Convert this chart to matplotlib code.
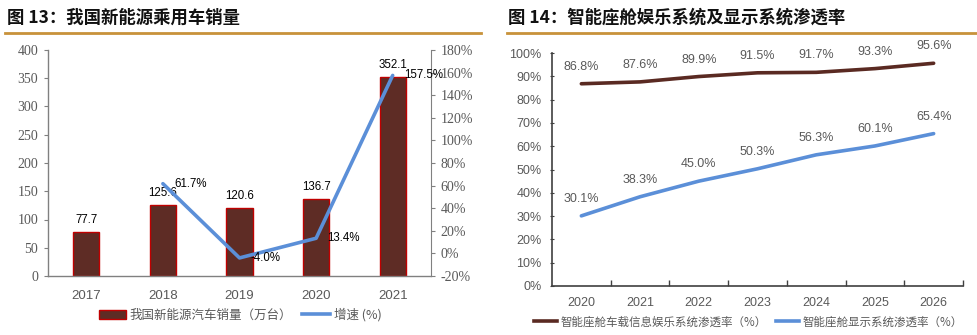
import matplotlib
matplotlib.use("Agg")
import matplotlib.pyplot as plt
from matplotlib.lines import Line2D
import numpy as np

plt.rcParams['font.family'] = ['Noto Sans CJK SC', 'DejaVu Sans']

# ---------------- data ----------------
years_l = ["2017", "2018", "2019", "2020", "2021"]
sales = [77.7, 125.6, 120.6, 136.7, 352.1]
growth_years_idx = [1, 2, 3, 4]
growth = [61.7, -4.0, 13.4, 157.5]
left_yticks = [0, 50, 100, 150, 200, 250, 300, 350, 400]
right_yticks = [-20, 0, 20, 40, 60, 80, 100, 120, 140, 160, 180]

years_r = ["2020", "2021", "2022", "2023", "2024", "2025", "2026"]
infot = [86.8, 87.6, 89.9, 91.5, 91.7, 93.3, 95.6]
display = [30.1, 38.3, 45.0, 50.3, 56.3, 60.1, 65.4]
r_yticks = [0, 10, 20, 30, 40, 50, 60, 70, 80, 90, 100]

title_l = "图 13：我国新能源乘用车销量"
title_r = "图 14：智能座舱娱乐系统及显示系统渗透率"
leg_bar = "我国新能源汽车销量（万台）"
leg_growth = "增速 (%)"
leg_r1 = "智能座舱车载信息娱乐系统渗透率（%）"
leg_r2 = "智能座舱显示系统渗透率（%）"

W, H = 977, 335
fig = plt.figure(figsize=(W / 100, H / 100), dpi=100)

def fx(px):
    return px / W

def fy(py):
    return 1 - py / H

BAR_C = "#5E2C25"
BAR_E = "#C00000"
BLUE = "#5B8FD8"
BROWN = "#5A2A22"
ORANGE = "#C8923A"
GRAY = "#808080"
TICKC = "#595959"

# titles and rules
fig.text(fx(7), fy(18), title_l, fontsize=12.5, fontweight="bold", va="center", ha="left", color="#111111")
fig.text(fx(508), fy(18), title_r, fontsize=12.5, fontweight="bold", va="center", ha="left", color="#111111")
fig.add_artist(Line2D([fx(5), fx(481)], [fy(33), fy(33)], color=ORANGE, lw=2))
fig.add_artist(Line2D([fx(507), fx(977)], [fy(33), fy(33)], color=ORANGE, lw=2))

# ---------------- left chart ----------------
axl = fig.add_axes([fx(48), fy(276), fx(431 - 48), fy(50) - fy(276)])
x = np.arange(len(years_l))
axl.bar(x, sales, width=0.34, color=BAR_C, edgecolor=BAR_E, linewidth=1, zorder=2)
axl.set_xlim(-0.5, len(years_l) - 0.5)
axl.set_ylim(0, 400)
axl.set_yticks(left_yticks)
axl.set_yticklabels([str(v) for v in left_yticks], family=["Liberation Serif"], fontsize=10, color=TICKC)
axl.set_xticks(x)
axl.set_xticklabels(years_l, family=["Liberation Sans"], fontsize=9.5, color=TICKC)
axl.tick_params(axis="x", length=0, pad=10)
axl.tick_params(axis="y", length=3, color=GRAY, pad=4)
for s in ["top", "right"]:
    axl.spines[s].set_visible(False)
for s in ["left", "bottom"]:
    axl.spines[s].set_color(GRAY)
    axl.spines[s].set_linewidth(1)
for xi, v in zip(x, sales):
    axl.annotate(f"{v:.1f}", (xi, v), xytext=(0, 12), textcoords="offset pixels",
                 ha="center", va="center", fontsize=8.3, family=["Liberation Sans"], color="#000000")

axr = axl.twinx()
axr.plot([x[i] for i in growth_years_idx], growth, color=BLUE, lw=2.6, zorder=3, solid_capstyle="round")
axr.set_ylim(-20, 180)
axr.set_yticks(right_yticks)
axr.set_yticklabels([f"{v}%" for v in right_yticks], family=["Liberation Serif"], fontsize=10, color=TICKC)
axr.tick_params(axis="y", length=3, color=GRAY, pad=4)
for s in ["top", "left", "bottom"]:
    axr.spines[s].set_visible(False)
axr.spines["right"].set_color(GRAY)
for i, v in zip(growth_years_idx, growth):
    axr.annotate(f"{v:.1f}%", (x[i], v), xytext=(11, 0), textcoords="offset pixels",
                 ha="left", va="center", fontsize=8.3, family=["Liberation Sans"], color="#000000")

h1 = plt.Rectangle((0, 0), 1, 1, facecolor=BAR_C, edgecolor=BAR_E, linewidth=1)
h2 = Line2D([], [], color=BLUE, lw=2.6)
fig.legend([h1, h2], [leg_bar, leg_growth], loc="center", bbox_to_anchor=(fx(240), fy(315)),
           ncol=2, frameon=False, fontsize=9, handlelength=2.2, handleheight=0.7, columnspacing=0.8,
           handletextpad=0.3, labelcolor=TICKC)

# ---------------- right chart ----------------
ax2 = fig.add_axes([fx(552), fy(286), fx(963 - 552), fy(53) - fy(286)])
xr = np.arange(len(years_r))
ax2.plot(xr, infot, color=BROWN, lw=2.6, solid_capstyle="round")
ax2.plot(xr, display, color=BLUE, lw=2.6, solid_capstyle="round")
ax2.set_xlim(-0.5, len(years_r) - 0.5)
ax2.set_ylim(0, 100)
ax2.set_yticks(r_yticks)
ax2.set_yticklabels([f"{v}%" for v in r_yticks], family=["Liberation Sans"], fontsize=9, color=TICKC)
ax2.set_xticks(xr)
ax2.set_xticklabels(years_r, family=["Liberation Sans"], fontsize=9, color=TICKC)
ax2.set_xticks(np.arange(len(years_r)) + 0.5, minor=True)
ax2.tick_params(axis="x", which="major", length=0, pad=8)
ax2.tick_params(axis="x", which="minor", length=4, direction="in", color="#404040", width=1)
ax2.tick_params(axis="y", length=3, direction="inout", color="#404040", pad=6)
for s in ["top", "right"]:
    ax2.spines[s].set_visible(False)
for s in ["left", "bottom"]:
    ax2.spines[s].set_color("#404040")
    ax2.spines[s].set_linewidth(1.2)
for xi, v in zip(xr, infot):
    ax2.annotate(f"{v:.1f}%", (xi, v), xytext=(0, 17), textcoords="offset pixels",
                 ha="center", va="center", fontsize=9, family=["Liberation Sans"], color=TICKC)
for xi, v in zip(xr, display):
    ax2.annotate(f"{v:.1f}%", (xi, v), xytext=(0, 17), textcoords="offset pixels",
                 ha="center", va="center", fontsize=9, family=["Liberation Sans"], color=TICKC)

g1 = Line2D([], [], color=BROWN, lw=2.6)
g2 = Line2D([], [], color=BLUE, lw=2.6)
fig.legend([g1, g2], [leg_r1, leg_r2], loc="center", bbox_to_anchor=(fx(748), fy(322)),
           ncol=2, frameon=False, fontsize=8.3, handlelength=2.0, columnspacing=0.8,
           handletextpad=0.3, labelcolor=TICKC)

fig.savefig("out.png", dpi=100)
